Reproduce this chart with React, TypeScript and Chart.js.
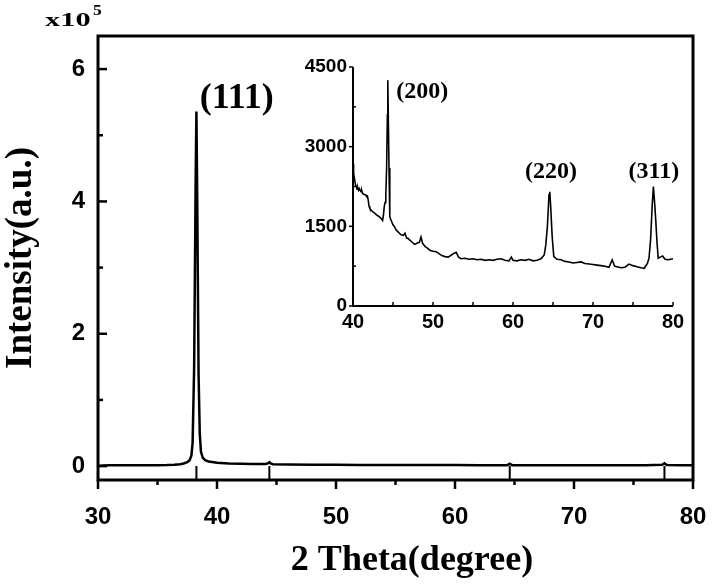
import React, { useEffect, useRef } from "react";
import { Chart, registerables } from "chart.js";
Chart.register(...registerables);

// ---------- main pattern (intensity in units of 1e5) ----------
const mainTheta = [30.0, 30.4, 31, 32, 33, 34, 35, 35.8, 36.4, 36.9, 37.2, 37.5, 37.7, 37.85, 37.95, 38.08, 38.2, 38.27, 38.34, 38.45, 38.55, 38.65, 38.8, 39.0, 39.3, 40, 41, 42, 43, 44.1, 44.3, 44.4, 44.5, 44.7, 46, 48, 50, 52, 54, 56, 58, 60, 62, 64.4, 64.6, 64.8, 66, 68, 70, 72, 74, 76, 77.4, 77.6, 77.8, 79, 80];
const mainIntensity = [0.0, 0.008, 0.012, 0.012, 0.013, 0.013, 0.014, 0.016, 0.02, 0.028, 0.04, 0.06, 0.09, 0.16, 0.35, 1.5, 4.2, 5.36, 4.0, 1.4, 0.5, 0.22, 0.13, 0.09, 0.07, 0.05, 0.04, 0.035, 0.032, 0.03, 0.045, 0.06, 0.04, 0.028, 0.025, 0.022, 0.02, 0.018, 0.017, 0.016, 0.015, 0.015, 0.014, 0.014, 0.035, 0.014, 0.013, 0.013, 0.012, 0.012, 0.012, 0.012, 0.02, 0.042, 0.015, 0.012, 0.012];
const refPeaks = [38.27, 44.4, 64.6, 77.6];
const mainXTicks = [30, 40, 50, 60, 70, 80];
const mainXMinor = [35, 45, 55, 65, 75];
const mainYTicks = [0, 2, 4, 6];
const mainYMinor = [1, 3, 5];
const mainYMin = -0.21;
const mainYMax = 6.5;
const mainLabels = [{ text: "(111)", x: 38.55, y: 5.55 }];

// ---------- inset pattern (counts) ----------
const insetTheta = [40.0, 40.05, 40.1, 40.2, 40.3, 40.4, 40.5, 40.6, 40.7, 40.8, 41.0, 41.1, 41.2, 41.4, 41.6, 41.7, 41.8, 41.9, 42.0, 42.1, 42.3, 42.5, 42.7, 42.9, 43.1, 43.3, 43.5, 43.7, 43.8, 43.9, 44.0, 44.1, 44.2, 44.3, 44.35, 44.4, 44.5, 44.6, 44.8, 45.0, 45.2, 45.4, 45.6, 45.8, 46.0, 46.3, 46.5, 46.7, 46.9, 47.1, 47.4, 47.7, 48.0, 48.3, 48.5, 48.7, 49.0, 49.3, 49.6, 50.0, 50.4, 50.8, 51.1, 51.5, 51.9, 52.3, 52.6, 52.9, 53.2, 53.5, 54.0, 54.5, 55.0, 55.5, 56.0, 56.5, 57.0, 57.5, 58.0, 58.5, 59.0, 59.5, 59.8, 60.0, 60.5, 61.0, 61.5, 62.0, 62.5, 63.0, 63.5, 63.9, 64.1, 64.3, 64.5, 64.6, 64.7, 64.9, 65.1, 65.5, 66.0, 66.5, 67.0, 67.5, 68.0, 68.5, 69.0, 69.5, 70.0, 70.5, 71.0, 71.5, 72.0, 72.4, 72.7, 73.0, 73.5, 74.0, 74.5, 75.0, 75.5, 76.0, 76.4, 76.8, 77.0, 77.2, 77.4, 77.55, 77.7, 77.85, 78.0, 78.15, 78.4, 78.7, 79.0, 79.4, 79.7, 80.0];
const insetCounts = [2680, 2560, 2500, 2380, 2290, 2250, 2200, 2230, 2180, 2210, 2150, 2170, 2120, 2100, 2090, 2060, 2070, 2000, 1880, 1840, 1800, 1770, 1750, 1720, 1700, 1680, 1650, 1610, 1700, 1860, 1950, 2080, 2600, 3600, 4250, 3700, 2600, 1680, 1600, 1530, 1490, 1430, 1400, 1370, 1340, 1330, 1370, 1280, 1270, 1240, 1200, 1160, 1180, 1200, 1300, 1180, 1120, 1090, 1050, 1030, 1020, 980, 950, 930, 920, 960, 990, 1010, 920, 890, 900, 880, 890, 870, 880, 860, 870, 860, 880, 890, 860, 850, 920, 860, 850, 870, 860, 880, 850, 860, 890, 960, 1150, 1500, 2100, 2150, 1900, 1300, 930, 880, 870, 840, 830, 810, 820, 830, 800, 790, 780, 770, 760, 750, 730, 870, 750, 740, 720, 730, 790, 760, 740, 720, 710, 800, 900, 1250, 1900, 2250, 1950, 1600, 1200, 900, 920, 940, 880, 870, 880, 890];
const insetXTicks = [40, 50, 60, 70, 80];
const insetXMinor = [45, 55, 65, 75];
const insetYTicks = [0, 1500, 3000, 4500];
const insetYMinor = [750, 2250, 3750];
const insetLabels = [
  { text: "(200)", x: 45.4, y: 4030, align: "left" },
  { text: "(220)", x: 64.75, y: 2520, align: "center" },
  { text: "(311)", x: 77.6, y: 2520, align: "center" },
];

const SERIF = "'Liberation Serif', 'Times New Roman', serif";
const SANS = "'Liberation Sans', Arial, sans-serif";

function ticksX(ctx: CanvasRenderingContext2D, scale: any, y0: number, values: number[], len: number) {
  values.forEach((v) => {
    const px = scale.getPixelForValue(v);
    ctx.beginPath();
    ctx.moveTo(px, y0);
    ctx.lineTo(px, y0 + len);
    ctx.stroke();
  });
}
function ticksY(ctx: CanvasRenderingContext2D, scale: any, x0: number, values: number[], len: number) {
  values.forEach((v) => {
    const py = scale.getPixelForValue(v);
    ctx.beginPath();
    ctx.moveTo(x0, py);
    ctx.lineTo(x0 + len, py);
    ctx.stroke();
  });
}

const noPadX = (h: number) => (s: any) => {
  s.height = h;
  s.paddingLeft = 0;
  s.paddingRight = 0;
};

export default function App() {
  const mainRef = useRef<HTMLCanvasElement>(null);
  const insetRef = useRef<HTMLCanvasElement>(null);

  useEffect(() => {
    const mainPlugin = {
      id: "mainDeco",
      afterDraw(chart: any) {
        const { ctx, chartArea: a, scales } = chart;
        const xs = scales.x, ys = scales.y;
        ctx.save();
        ctx.strokeStyle = "#000";
        ctx.lineWidth = 3;
        ctx.strokeRect(a.left, a.top, a.right - a.left, a.bottom - a.top);
        ctx.lineWidth = 2.5;
        ticksX(ctx, xs, a.bottom, mainXTicks, 9);
        ticksX(ctx, xs, a.bottom, mainXMinor, 5);
        ticksY(ctx, ys, a.left, mainYTicks, 9);
        ticksY(ctx, ys, a.left, mainYMinor, 5);
        ctx.fillStyle = "#000";
        ctx.textAlign = "center";
        ctx.textBaseline = "middle";
        ctx.font = `bold 36px ${SERIF}`;
        ctx.fillText("2 Theta(degree)", 412, 561);
        ctx.save();
        ctx.font = `bold 37px ${SERIF}`;
        ctx.translate(21, (a.top + a.bottom) / 2);
        ctx.rotate(-Math.PI / 2);
        ctx.fillText("Intensity(a.u.)", 0, 0);
        ctx.restore();
        ctx.font = `bold 36px ${SERIF}`;
        mainLabels.forEach((l) => {
          ctx.textAlign = "left";
          ctx.fillText(l.text, xs.getPixelForValue(l.x), ys.getPixelForValue(l.y));
        });
        ctx.textAlign = "left";
        ctx.textBaseline = "alphabetic";
        ctx.save();
        ctx.translate(45, 26);
        ctx.scale(1.6, 1);
        ctx.font = `bold 19px ${SERIF}`;
        ctx.fillText("x10", 0, 0);
        ctx.restore();
        ctx.save();
        ctx.translate(93, 15);
        ctx.scale(1.25, 1);
        ctx.font = `bold 14px ${SERIF}`;
        ctx.fillText("5", 0, 0);
        ctx.restore();
        ctx.restore();
      },
    };

    const main = new Chart(mainRef.current!, {
      type: "scatter",
      data: {
        datasets: [
          {
            data: mainTheta.map((x, i) => ({ x, y: mainIntensity[i] })),
            showLine: true,
            borderColor: "#000",
            borderWidth: 2.5,
            pointRadius: 0,
            tension: 0,
          },
          {
            data: refPeaks.flatMap((p) => [
              { x: p, y: mainYMin },
              { x: p, y: 0 },
              { x: p, y: null },
            ]),
            showLine: true,
            spanGaps: false,
            borderColor: "#000",
            borderWidth: 2,
            pointRadius: 0,
          },
        ],
      },
      options: {
        responsive: false,
        animation: false,
        devicePixelRatio: 1,
        layout: { padding: { left: 0, right: 21, top: 36, bottom: 0 } },
        plugins: { legend: { display: false }, tooltip: { enabled: false } },
        scales: {
          x: {
            type: "linear",
            min: 30,
            max: 80,
            afterBuildTicks: (s: any) => { s.ticks = mainXTicks.map((value) => ({ value })); },
            afterFit: noPadX(105),
            grid: { display: false, drawTicks: false },
            border: { display: false },
            ticks: { color: "#000", font: { family: SANS, size: 24, weight: "bold" }, padding: 23, maxRotation: 0, callback: (v: any) => String(v) },
          },
          y: {
            type: "linear",
            min: mainYMin,
            max: mainYMax,
            afterBuildTicks: (s: any) => { s.ticks = mainYTicks.map((value) => ({ value })); },
            afterFit: (s: any) => { s.width = 98; s.paddingTop = 0; s.paddingBottom = 0; },
            grid: { display: false, drawTicks: false },
            border: { display: false },
            ticks: { color: "#000", font: { family: SANS, size: 24, weight: "bold" }, padding: 13, callback: (v: any) => String(v) },
          },
        },
      },
      plugins: [mainPlugin],
    } as any);

    const insetPlugin = {
      id: "insetDeco",
      afterDraw(chart: any) {
        const { ctx, chartArea: a, scales } = chart;
        const xs = scales.x, ys = scales.y;
        ctx.save();
        ctx.strokeStyle = "#000";
        ctx.lineWidth = 2;
        ctx.beginPath();
        ctx.moveTo(a.left, a.top);
        ctx.lineTo(a.left, a.bottom);
        ctx.lineTo(a.right, a.bottom);
        ctx.stroke();
        ctx.lineWidth = 1.5;
        ticksY(ctx, ys, a.left, insetYTicks, -4);
        ticksY(ctx, ys, a.left, insetYMinor, 3);
        ticksX(ctx, xs, a.bottom, insetXTicks, -4);
        ticksX(ctx, xs, a.bottom, insetXMinor, -4);
        ctx.fillStyle = "#000";
        ctx.font = `bold 24px ${SERIF}`;
        ctx.textBaseline = "middle";
        insetLabels.forEach((l) => {
          ctx.textAlign = l.align as CanvasTextAlign;
          ctx.fillText(l.text, xs.getPixelForValue(l.x), ys.getPixelForValue(l.y));
        });
        ctx.restore();
      },
    };

    const inset = new Chart(insetRef.current!, {
      type: "scatter",
      data: {
        datasets: [
          {
            data: insetTheta.map((x, i) => ({ x, y: insetCounts[i] })),
            showLine: true,
            borderColor: "#000",
            borderWidth: 1.6,
            pointRadius: 0,
            tension: 0,
          },
        ],
      },
      options: {
        responsive: false,
        animation: false,
        devicePixelRatio: 1,
        layout: { padding: { left: 0, right: 17, top: 17, bottom: 0 } },
        plugins: { legend: { display: false }, tooltip: { enabled: false } },
        scales: {
          x: {
            type: "linear",
            min: 40,
            max: 80,
            afterBuildTicks: (s: any) => { s.ticks = insetXTicks.map((value) => ({ value })); },
            afterFit: noPadX(34),
            grid: { display: false, drawTicks: false },
            border: { display: false },
            ticks: { color: "#000", font: { family: SANS, size: 20, weight: "bold" }, padding: 4, maxRotation: 0, callback: (v: any) => String(v) },
          },
          y: {
            type: "linear",
            min: 0,
            max: 4500,
            afterBuildTicks: (s: any) => { s.ticks = insetYTicks.map((value) => ({ value })); },
            afterFit: (s: any) => { s.width = 63; s.paddingTop = 0; s.paddingBottom = 0; },
            grid: { display: false, drawTicks: false },
            border: { display: false },
            ticks: { color: "#000", font: { family: SANS, size: 19, weight: "bold" }, padding: 6, callback: (v: any) => String(v) },
          },
        },
      },
      plugins: [insetPlugin],
    } as any);

    return () => {
      main.destroy();
      inset.destroy();
    };
  }, []);

  return (
    <div style={{ position: "fixed", left: 0, top: 0, width: 714, height: 585, background: "#fff" }}>
      <canvas ref={mainRef} width={714} height={585} style={{ position: "absolute", left: 0, top: 0 }} />
      <canvas ref={insetRef} width={400} height={290} style={{ position: "absolute", left: 290, top: 50 }} />
    </div>
  );
}
